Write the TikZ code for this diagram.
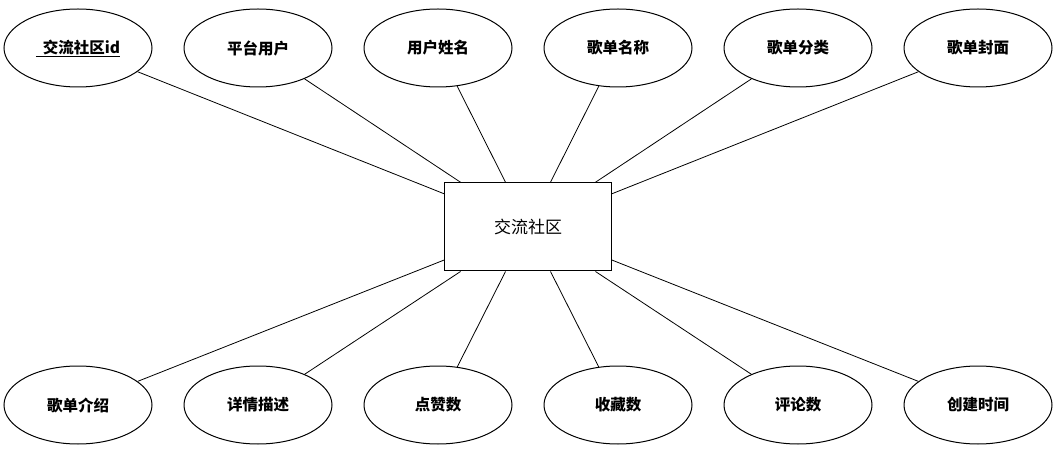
\documentclass[tikz,border=0pt]{standalone}
\usepackage{fontspec}
\usepackage{tikz}
\usetikzlibrary{shapes.geometric}
\newfontfamily\cjk{Noto Sans CJK SC}
\tikzset{
  attr/.style={draw,line width=1pt,ellipse,minimum width=148pt,minimum height=78pt,font=\cjk\bfseries\fontsize{15.5pt}{17pt}\selectfont},
  ent/.style={draw,line width=1pt,minimum width=167pt,minimum height=88pt,font=\cjk\fontsize{17pt}{19pt}\selectfont},
  link/.style={line width=0.8pt}
}
\begin{document}
\begin{tikzpicture}[x=1pt,y=1pt,yscale=-1]
\useasboundingbox (0,0) rectangle (1057,454);
%entity
\node[ent] (comm) at (528,227) {交流社区};
%top attributes
\node[attr] (a1) at (78,48) {\underline{\ \ 交流社区id}};
\node[attr] (a2) at (258,48) {平台用户};
\node[attr] (a3) at (438,48) {用户姓名};
\node[attr] (a4) at (618,48) {歌单名称};
\node[attr] (a5) at (798,48) {歌单分类};
\node[attr] (a6) at (978,48) {歌单封面};
%bottom attributes
\node[attr] (b1) at (78,405) {歌单介绍};
\node[attr] (b2) at (258,405) {详情描述};
\node[attr] (b3) at (438,405) {点赞数};
\node[attr] (b4) at (618,405) {收藏数};
\node[attr] (b5) at (798,405) {评论数};
\node[attr] (b6) at (978,405) {创建时间};
\foreach \n in {a1,a2,a3,a4,a5,a6,b1,b2,b3,b4,b5,b6}
  \draw[link] (\n) -- (comm);
\end{tikzpicture}
\end{document}
